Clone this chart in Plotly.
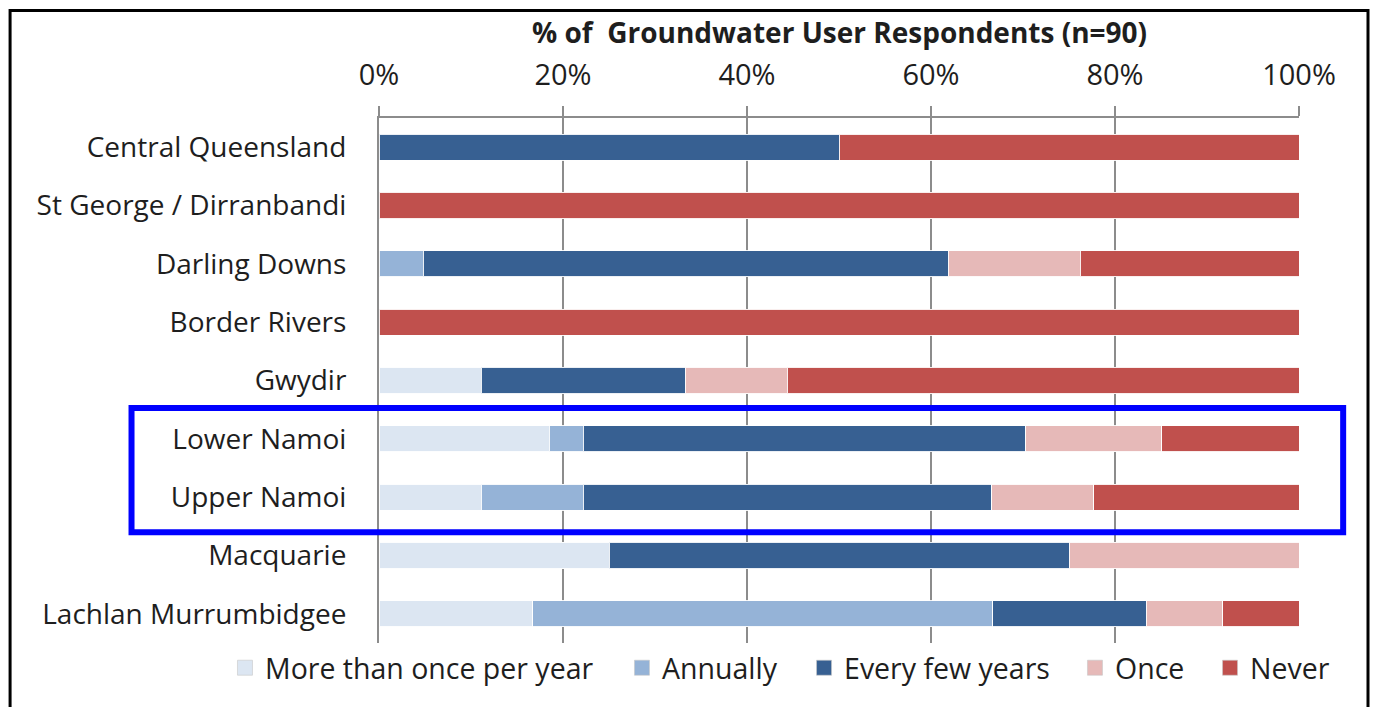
import plotly.graph_objects as go

categories = ["Central Queensland", "St George / Dirranbandi", "Darling Downs", "Border Rivers",
              "Gwydir", "Lower Namoi", "Upper Namoi", "Macquarie", "Lachlan Murrumbidgee"]

more_than_once = [0, 0, 0, 0, 11.1, 18.5, 11.1, 25.0, 16.7]
annually = [0, 0, 4.8, 0, 0, 3.7, 11.1, 0, 50.0]
every_few_years = [50.0, 0, 57.1, 0, 22.2, 48.1, 44.4, 50.0, 16.7]
once = [0, 0, 14.3, 0, 11.1, 14.8, 11.1, 25.0, 8.3]
never = [50.0, 100.0, 23.8, 100.0, 55.6, 14.9, 22.3, 0, 8.3]

tick_vals = [0, 20, 40, 60, 80, 100]
tick_text = ["0%", "20%", "40%", "60%", "80%", "100%"]

series = [
    ("More than once per year", more_than_once, "#dce6f2"),
    ("Annually", annually, "#95b3d7"),
    ("Every few years", every_few_years, "#376092"),
    ("Once", once, "#e6b9b8"),
    ("Never", never, "#c0504d"),
]
legend_x = [-0.1674, 0.2641, 0.4620, 0.7565, 0.9033]

FONT = "Open Sans"
TXT = "#1e1e1e"
fig = go.Figure()
for i, (name, vals, col) in enumerate(series):
    fig.add_trace(go.Bar(
        y=categories, x=vals, name=name, orientation="h", showlegend=False,
        marker=dict(color=col, line=dict(color="rgba(255,255,255,0.9)", width=1)),
    ))
for i, (name, vals, col) in enumerate(series):
    lg = "legend" if i == 0 else f"legend{i+1}"
    fig.add_trace(go.Scatter(
        x=[None], y=[None], mode="markers", name=name, legend=lg, showlegend=True,
        marker=dict(symbol="square", size=15, color=col,
                    line=dict(color="rgba(200,200,200,0.6)", width=1)),
    ))

legend_common = dict(orientation="h", xanchor="left", y=-0.048, yanchor="middle",
                     font=dict(size=28.5, family=FONT, color=TXT), itemwidth=30,
                     bgcolor="rgba(0,0,0,0)")
legends = {}
for i, lx in enumerate(legend_x):
    key = "legend" if i == 0 else f"legend{i+1}"
    legends[key] = dict(x=lx, **legend_common)

fig.update_layout(
    width=1377, height=707,
    barmode="stack", bargap=0.55,
    paper_bgcolor="white", plot_bgcolor="white",
    margin=dict(l=379, r=78, t=118, b=64),
    font=dict(family=FONT, size=28, color=TXT),
    showlegend=True,
    xaxis=dict(side="top", range=[0, 100], tickvals=tick_vals, ticktext=tick_text,
               showgrid=True, gridcolor="#8c8c8c", gridwidth=2,
               showline=True, linecolor="#8c8c8c", linewidth=2,
               ticks="outside", ticklen=10, tickcolor="#8c8c8c", tickwidth=2,
               ticklabelstandoff=9, zeroline=False,
               tickfont=dict(size=29)),
    yaxis=dict(categoryorder="array", categoryarray=categories, autorange="reversed",
               showline=True, linecolor="#8c8c8c", linewidth=2, ticks="",
               ticklabelstandoff=25, showgrid=False, tickfont=dict(size=28)),
    **legends,
)

fig.add_annotation(text="<b>% of  Groundwater User Respondents (n=90)</b>",
                   xref="paper", yref="paper", x=0.5, y=1.164, yanchor="middle",
                   showarrow=False, font=dict(size=28, family=FONT, color=TXT))

# highlight box around Namoi rows
fig.add_shape(type="rect", xref="paper", yref="y", x0=-0.269, x1=1.048, y0=4.47, y1=6.6,
              line=dict(color="#0000ff", width=6), fillcolor="rgba(0,0,0,0)", layer="above")
# outer frame
fig.add_shape(type="rect", xref="paper", yref="paper", x0=-0.401, x1=1.075, y0=-0.2, y1=1.205,
              line=dict(color="black", width=3), fillcolor="rgba(0,0,0,0)")

fig.write_html("out.html", config={"displayModeBar": False},
               post_script="document.body.style.margin='0';")
